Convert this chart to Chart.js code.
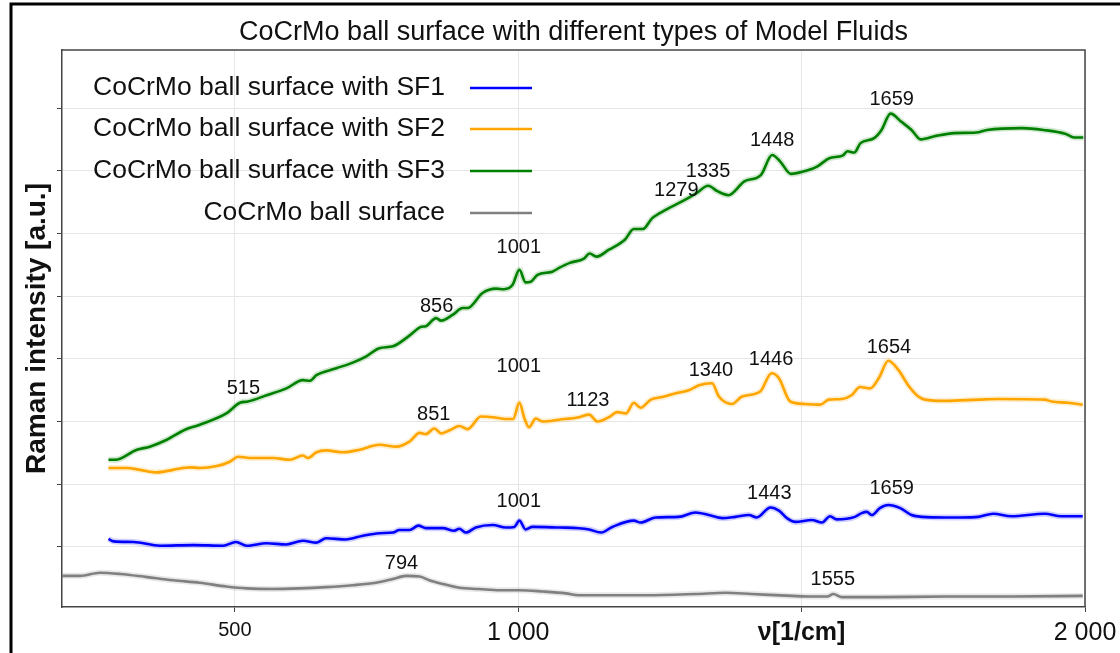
<!DOCTYPE html>
<html>
<head>
<meta charset="utf-8">
<script src="https://cdn.jsdelivr.net/npm/chart.js@4.4.1/dist/chart.umd.min.js"></script>
<style>
  html, body { margin: 0; padding: 0; background: #ffffff; }
  canvas { display: block; }
</style>
</head>
<body>
<canvas id="chart" width="1120" height="653"></canvas>
<script>
// Raman spectra of the CoCrMo ball surface, plain and after contact with three model fluids.
const seriesNames = [
  'CoCrMo ball surface with SF1',
  'CoCrMo ball surface with SF2',
  'CoCrMo ball surface with SF3',
  'CoCrMo ball surface'
];
const seriesColors = ['#0000ff', '#ffa500', '#008000', '#808080'];

const sf1Wavenumber = [277, 286, 321, 368, 427, 479, 502, 521, 556, 591, 620, 644, 661, 696, 726, 755, 779, 790, 808, 824, 837, 867, 887, 896, 908, 925, 955, 978, 993, 1002, 1013, 1025, 1072, 1107, 1125, 1146, 1166, 1204, 1216, 1242, 1283, 1313, 1336, 1360, 1383, 1407, 1421, 1445, 1460, 1474, 1489, 1518, 1536, 1550, 1562, 1594, 1606, 1615, 1624, 1638, 1653, 1674, 1694, 1712, 1753, 1782, 1812, 1838, 1870, 1929, 1958, 1996];
const sf1Intensity = [1.13, 1.09, 1.08, 1.02, 1.03, 1.02, 1.08, 1.02, 1.06, 1.04, 1.10, 1.07, 1.14, 1.12, 1.18, 1.22, 1.23, 1.27, 1.27, 1.34, 1.30, 1.30, 1.26, 1.29, 1.23, 1.31, 1.35, 1.31, 1.32, 1.42, 1.28, 1.32, 1.31, 1.30, 1.28, 1.23, 1.32, 1.42, 1.39, 1.47, 1.48, 1.55, 1.51, 1.46, 1.48, 1.51, 1.47, 1.63, 1.58, 1.46, 1.40, 1.43, 1.39, 1.49, 1.44, 1.48, 1.54, 1.56, 1.51, 1.62, 1.67, 1.62, 1.51, 1.48, 1.47, 1.47, 1.48, 1.53, 1.49, 1.53, 1.49, 1.49];

const sf2Wavenumber = [277, 309, 333, 362, 391, 421, 438, 468, 491, 506, 526, 567, 597, 620, 629, 644, 661, 691, 720, 755, 785, 808, 826, 837, 852, 864, 881, 896, 911, 934, 955, 978, 991, 1002, 1011, 1019, 1031, 1043, 1072, 1107, 1125, 1140, 1160, 1175, 1190, 1204, 1216, 1234, 1254, 1278, 1301, 1319, 1342, 1354, 1377, 1395, 1427, 1447, 1460, 1480, 1506, 1533, 1548, 1571, 1588, 1603, 1621, 1636, 1653, 1671, 1688, 1706, 1718, 1753, 1812, 1847, 1929, 1941, 1970, 1996];
const sf2Intensity = [2.26, 2.26, 2.23, 2.19, 2.23, 2.27, 2.26, 2.29, 2.36, 2.44, 2.42, 2.42, 2.39, 2.46, 2.42, 2.51, 2.54, 2.51, 2.55, 2.63, 2.60, 2.68, 2.82, 2.80, 2.89, 2.81, 2.87, 2.93, 2.88, 3.08, 3.07, 3.04, 3.04, 3.30, 3.05, 2.91, 3.05, 3.00, 3.03, 3.07, 3.11, 3.00, 3.07, 3.15, 3.13, 3.30, 3.22, 3.35, 3.39, 3.45, 3.50, 3.58, 3.61, 3.40, 3.28, 3.40, 3.48, 3.77, 3.69, 3.32, 3.28, 3.27, 3.35, 3.36, 3.42, 3.55, 3.53, 3.69, 3.97, 3.82, 3.58, 3.40, 3.35, 3.33, 3.35, 3.36, 3.35, 3.32, 3.30, 3.27];

const sf3Wavenumber = [277, 289, 327, 350, 380, 412, 438, 485, 509, 523, 556, 591, 620, 632, 644, 679, 708, 732, 755, 779, 808, 829, 837, 855, 864, 884, 902, 911, 937, 961, 975, 990, 1002, 1013, 1022, 1034, 1060, 1072, 1091, 1116, 1126, 1138, 1160, 1188, 1204, 1220, 1236, 1261, 1289, 1314, 1335, 1352, 1371, 1399, 1428, 1448, 1462, 1481, 1512, 1528, 1549, 1572, 1581, 1593, 1604, 1628, 1641, 1657, 1676, 1694, 1710, 1739, 1770, 1808, 1827, 1889, 1927, 1965, 1981, 1997];
const sf3Intensity = [2.39, 2.39, 2.55, 2.60, 2.71, 2.87, 2.95, 3.13, 3.30, 3.32, 3.42, 3.53, 3.66, 3.65, 3.74, 3.85, 3.94, 4.04, 4.17, 4.20, 4.37, 4.51, 4.52, 4.65, 4.61, 4.70, 4.81, 4.81, 5.05, 5.12, 5.11, 5.18, 5.42, 5.22, 5.23, 5.34, 5.39, 5.45, 5.53, 5.60, 5.68, 5.63, 5.74, 5.90, 6.07, 6.07, 6.24, 6.38, 6.51, 6.64, 6.76, 6.67, 6.61, 6.83, 6.93, 7.25, 7.15, 6.95, 7.01, 7.07, 7.20, 7.24, 7.31, 7.29, 7.44, 7.52, 7.65, 7.91, 7.78, 7.65, 7.50, 7.56, 7.60, 7.61, 7.65, 7.68, 7.65, 7.59, 7.53, 7.53];

const ballWavenumber = [195, 204, 227, 262, 298, 345, 391, 438, 485, 521, 567, 614, 661, 708, 749, 779, 802, 826, 843, 867, 896, 931, 967, 1002, 1043, 1084, 1107, 1225, 1313, 1366, 1412, 1483, 1518, 1545, 1556, 1571, 1636, 1753, 1870, 1996];
const ballIntensity = [0.54, 0.54, 0.54, 0.59, 0.57, 0.52, 0.47, 0.43, 0.37, 0.34, 0.33, 0.34, 0.36, 0.39, 0.43, 0.49, 0.54, 0.53, 0.47, 0.41, 0.35, 0.33, 0.31, 0.31, 0.29, 0.26, 0.23, 0.23, 0.25, 0.27, 0.25, 0.22, 0.21, 0.21, 0.25, 0.20, 0.20, 0.21, 0.21, 0.22];

// Annotated band positions: series index, wavenumber, height of the label
const peakSeries = [2, 2, 2, 2, 2, 2, 2, 1, 1, 1, 1, 1, 1, 0, 0, 0, 3, 3];
const peakWavenumber = [515, 856, 1001, 1279, 1335, 1448, 1659, 851, 1001, 1123, 1340, 1446, 1654, 1001, 1443, 1659, 794, 1555];
const peakLabelLevel = [3.52, 4.83, 5.78, 6.69, 6.98, 7.475, 8.13, 3.12, 3.875, 3.333, 3.82, 3.99, 4.185, 1.72, 1.856, 1.936, 0.74, 0.474];

const xTicks = [500, 1000, 1500, 2000];
const xTickLabels = ['500', '1 000', 'ν[1/cm]', '2 000'];
const yTicks = [1, 2, 3, 4, 5, 6, 7, 8];

const FONT = '"Liberation Sans", Arial, sans-serif';
const TEXT = '#111111';

const spectra = [
  [sf1Wavenumber, sf1Intensity],
  [sf2Wavenumber, sf2Intensity],
  [sf3Wavenumber, sf3Intensity],
  [ballWavenumber, ballIntensity]
];

function toPoints(xs, ys) {
  return xs.map((x, i) => ({ x: x, y: ys[i] }));
}

function hexAlpha(hex, a) {
  const n = parseInt(hex.slice(1), 16);
  return 'rgba(' + ((n >> 16) & 255) + ',' + ((n >> 8) & 255) + ',' + (n & 255) + ',' + a + ')';
}

const datasets = [];
spectra.forEach(([xs, ys], i) => {
  datasets.push({
    label: seriesNames[i],
    data: toPoints(xs, ys),
    borderColor: seriesColors[i],
    borderWidth: 2.6,
    pointRadius: 0,
    cubicInterpolationMode: 'monotone',
    order: i
  });
});
// faint band behind each trace for the scattered raw readings
spectra.forEach(([xs, ys], i) => {
  datasets.push({
    label: seriesNames[i] + ' (raw)',
    data: toPoints(xs, ys),
    borderColor: hexAlpha(seriesColors[i], 0.18),
    borderWidth: 6,
    pointRadius: 0,
    cubicInterpolationMode: 'monotone',
    order: 10 + i
  });
});

const decorations = {
  id: 'decorations',
  beforeDraw(chart) {
    const ctx = chart.ctx;
    ctx.save();
    ctx.fillStyle = '#ffffff';
    ctx.fillRect(0, 0, chart.width, chart.height);
    ctx.restore();
  },
  afterDatasetsDraw(chart) {
    const ctx = chart.ctx;
    const xs = chart.scales.x, ys = chart.scales.y;
    ctx.save();
    ctx.font = '20px ' + FONT;
    ctx.fillStyle = TEXT;
    ctx.textAlign = 'center';
    ctx.textBaseline = 'middle';
    peakWavenumber.forEach((w, i) => {
      ctx.fillText(String(w), xs.getPixelForValue(w), ys.getPixelForValue(peakLabelLevel[i]));
    });
    ctx.restore();
  },
  afterDraw(chart) {
    const ctx = chart.ctx;
    const a = chart.chartArea;
    ctx.save();
    // top and right spines
    ctx.strokeStyle = '#444444';
    ctx.lineWidth = 1.5;
    ctx.beginPath();
    ctx.moveTo(a.left, a.top);
    ctx.lineTo(a.right, a.top);
    ctx.lineTo(a.right, a.bottom);
    ctx.stroke();

    // title
    ctx.fillStyle = TEXT;
    ctx.font = '27px ' + FONT;
    ctx.textAlign = 'center';
    ctx.textBaseline = 'middle';
    ctx.fillText('CoCrMo ball surface with different types of Model Fluids', (a.left + a.right) / 2, 33);

    // legend: label right-aligned, line sample on the right
    const rows = [88, 129, 171, 213];
    ctx.font = '26.5px ' + FONT;
    ctx.textAlign = 'right';
    seriesNames.forEach((name, i) => {
      ctx.fillStyle = TEXT;
      ctx.fillText(name, 445, rows[i]);
      ctx.strokeStyle = seriesColors[i];
      ctx.lineWidth = 2.6;
      ctx.beginPath();
      ctx.moveTo(470, rows[i]);
      ctx.lineTo(532, rows[i]);
      ctx.stroke();
    });

    // figure frame
    ctx.strokeStyle = '#000000';
    ctx.lineWidth = 3;
    ctx.beginPath();
    ctx.moveTo(11, chart.height);
    ctx.lineTo(11, 4);
    ctx.lineTo(chart.width, 4);
    ctx.stroke();
    ctx.restore();
  }
};

new Chart(document.getElementById('chart'), {
  type: 'line',
  data: { datasets: datasets },
  plugins: [decorations],
  options: {
    responsive: false,
    devicePixelRatio: 1,
    animation: false,
    layout: { padding: { top: 50, right: 35, left: 0, bottom: 0 } },
    plugins: {
      legend: { display: false },
      title: { display: false },
      tooltip: { enabled: false }
    },
    scales: {
      x: {
        type: 'linear',
        min: 195,
        max: 2000,
        afterBuildTicks(scale) { scale.ticks = xTicks.map(v => ({ value: v })); },
        afterFit(scale) {
          scale.height = 46;
          scale.paddingLeft = 0;
          scale.paddingRight = 0;
        },
        grid: { color: '#e6e6e6', lineWidth: 1, tickLength: 5, tickColor: '#444444' },
        border: { display: true, color: '#444444', width: 1.5 },
        ticks: {
          color: TEXT,
          padding: 6,
          maxRotation: 0,
          autoSkip: false,
          callback: (v) => xTickLabels[xTicks.indexOf(v)],
          font: (c) => {
            const v = c.tick ? c.tick.value : 0;
            if (v === 500) return { family: FONT, size: 20 };
            if (v === 1500) return { family: FONT, size: 25, weight: 'bold' };
            return { family: FONT, size: 25 };
          }
        }
      },
      y: {
        type: 'linear',
        min: 0.043,
        max: 8.925,
        afterBuildTicks(scale) { scale.ticks = yTicks.map(v => ({ value: v })); },
        afterFit(scale) { scale.width = 62; },
        grid: { color: '#e6e6e6', lineWidth: 1, tickLength: 5, tickColor: '#444444' },
        border: { display: true, color: '#444444', width: 1.5 },
        ticks: { display: false },
        title: {
          display: true,
          text: 'Raman intensity [a.u.]',
          color: TEXT,
          font: { family: FONT, size: 28, weight: 'bold' },
          padding: { top: 20, bottom: 0 }
        }
      }
    }
  }
});
</script>
</body>
</html>
